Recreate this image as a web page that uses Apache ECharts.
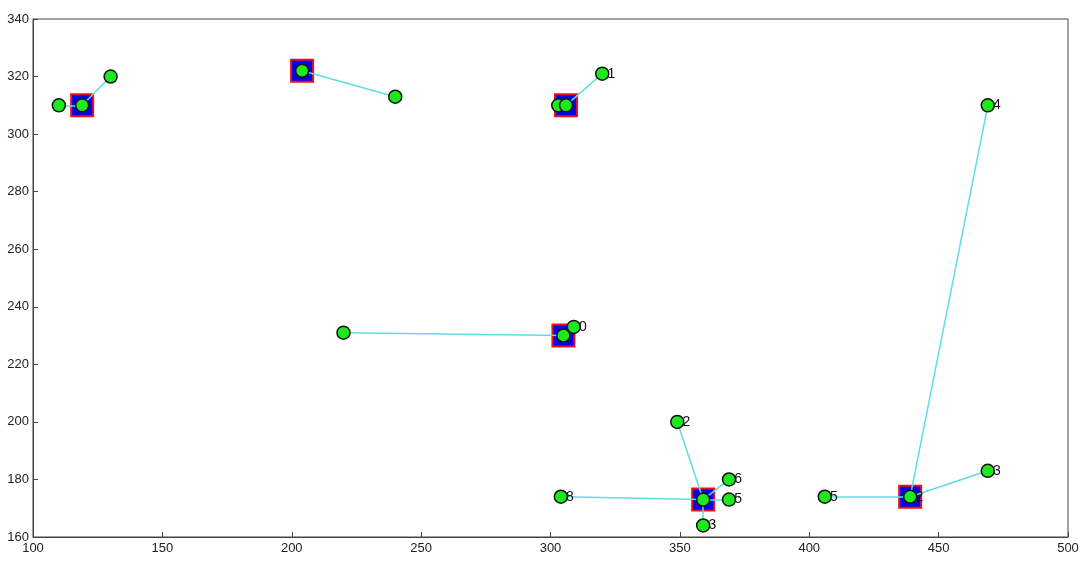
<!DOCTYPE html>
<html>
<head>
<meta charset="utf-8">
<script src="https://cdn.jsdelivr.net/npm/echarts@6/dist/echarts.min.js"></script>
<style>html,body{margin:0;padding:0;background:#fff}#c{width:1084px;height:568px}</style>
</head>
<body>
<div id="c"></div>
<script>
// cluster centers
const centerX = [119, 204, 306, 305, 359, 439];
const centerY = [310, 322, 310, 230, 173, 174];
// points
const pointX = [110, 130, 119, 204, 240, 303, 306, 320, 220, 305, 309, 349, 369, 369, 359, 304, 359, 406, 439, 469, 469];
const pointY = [310, 320, 310, 322, 313, 310, 310, 321, 231, 230, 233, 200, 180, 173, 164, 174, 173, 174, 174, 183, 310];
const pointCluster = [0, 0, 0, 1, 1, 2, 2, 2, 3, 3, 3, 4, 4, 4, 4, 4, 4, 5, 5, 5, 5];
const pointLabel = ['', '', '', '', '', '', '', '1', '', '', '0', '2', '6', '5', '3', '8', '', '5', '2', '3', '4'];
const xTicks = [100, 150, 200, 250, 300, 350, 400, 450, 500];
const yTicks = [160, 180, 200, 220, 240, 260, 280, 300, 320, 340];

const segs = pointX.map((x, i) => ({coords: [[centerX[pointCluster[i]], centerY[pointCluster[i]]], [x, pointY[i]]]}));

const chart = echarts.init(document.getElementById('c'), null, {renderer: 'canvas'});
const axisCommon = {
  axisLine: {show: true, onZero: false, lineStyle: {color: '#444', width: 1}},
  axisTick: {show: true, inside: true, length: 5, lineStyle: {color: '#444'}},
  splitLine: {show: false},
  axisLabel: {color: '#222', fontFamily: 'Liberation Sans, Arial', fontSize: 13}
};
chart.setOption({
  animation: false,
  grid: {left: 33, right: 16, top: 19, bottom: 31, show: true, borderColor: '#444', borderWidth: 1},
  xAxis: Object.assign({type: 'value', min: xTicks[0], max: xTicks[xTicks.length - 1], interval: 50}, axisCommon,
    {axisLabel: Object.assign({}, axisCommon.axisLabel, {margin: 5})}),
  yAxis: Object.assign({type: 'value', min: yTicks[0], max: yTicks[yTicks.length - 1], interval: 20}, axisCommon,
    {axisLabel: Object.assign({}, axisCommon.axisLabel, {margin: 4})}),
  series: [
    {
      type: 'scatter', z: 2,
      data: centerX.map((x, i) => [x, centerY[i]]),
      symbol: 'rect', symbolSize: 22,
      itemStyle: {color: '#0000ee', borderColor: '#e8101c', borderWidth: 2, opacity: 1}
    },
    {
      type: 'lines', coordinateSystem: 'cartesian2d', z: 3,
      data: segs,
      lineStyle: {color: '#5fdde6', width: 1.5, opacity: 1}
    },
    {
      type: 'scatter', z: 4,
      data: pointX.map((x, i) => ({value: [x, pointY[i]], label: {show: pointLabel[i] !== '', formatter: pointLabel[i]}})),
      symbol: 'circle', symbolSize: 13,
      itemStyle: {color: '#1ee81e', borderColor: '#111', borderWidth: 1.5, opacity: 1},
      label: {position: 'right', distance: -2, color: '#111', fontSize: 14, fontFamily: 'Liberation Sans, Arial'}
    }
  ]
});
</script>
</body>
</html>
